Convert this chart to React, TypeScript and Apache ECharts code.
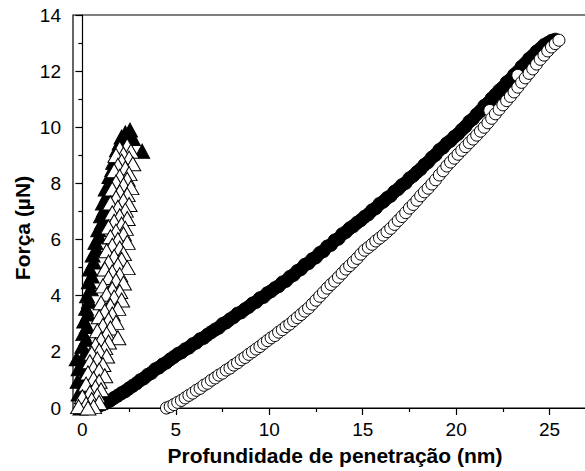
import { useEffect, useRef } from "react";
import * as echarts from "echarts";

// ---- axis ticks / titles ----
const xMajorTicks = [0, 5, 10, 15, 20, 25];
const xMinorTicks = [2.5, 7.5, 12.5, 17.5, 22.5];
const xTitle = "Profundidade de penetração (nm)";
const yTitle = "Força (µN)";

// ---- filled circles (loading, sample B) ----
const loadCircles: number[][] = [
  [0.3, 0.0], [0.5, 0.02], [0.7, 0.05], [0.9, 0.08], [1.1, 0.13], [1.3, 0.19], [1.5, 0.27],
  [1.7, 0.36], [1.9, 0.44], [2.1, 0.53], [2.3, 0.6], [2.5, 0.7], [2.7, 0.79], [2.9, 0.88],
  [3.1, 0.99], [3.3, 1.06], [3.5, 1.18], [3.7, 1.25], [3.9, 1.38], [4.1, 1.44], [4.3, 1.55],
  [4.5, 1.62], [4.7, 1.73], [4.9, 1.82], [5.1, 1.92], [5.3, 1.98], [5.5, 2.09], [5.7, 2.15],
  [5.9, 2.27], [6.1, 2.33], [6.3, 2.45], [6.5, 2.5], [6.7, 2.61], [6.9, 2.7], [7.1, 2.79],
  [7.3, 2.86], [7.5, 2.99], [7.7, 3.05], [7.9, 3.16], [8.1, 3.24], [8.3, 3.36], [8.5, 3.41],
  [8.7, 3.52], [8.9, 3.6], [9.1, 3.72], [9.3, 3.78], [9.5, 3.91], [9.7, 3.96], [9.9, 4.09],
  [10.1, 4.16], [10.3, 4.27], [10.5, 4.34], [10.7, 4.47], [10.9, 4.53], [11.1, 4.67],
  [11.3, 4.74], [11.5, 4.88], [11.7, 4.95], [11.9, 5.1], [12.1, 5.16], [12.3, 5.3],
  [12.5, 5.37], [12.7, 5.52], [12.9, 5.59], [13.1, 5.75], [13.3, 5.81], [13.5, 5.97],
  [13.7, 6.03], [13.9, 6.19], [14.1, 6.27], [14.3, 6.4], [14.5, 6.48], [14.7, 6.6],
  [14.9, 6.69], [15.1, 6.81], [15.3, 6.9], [15.5, 7.04], [15.7, 7.12], [15.9, 7.27],
  [16.1, 7.35], [16.3, 7.48], [16.5, 7.56], [16.7, 7.71], [16.9, 7.8], [17.1, 7.94],
  [17.3, 8.02], [17.5, 8.18], [17.7, 8.27], [17.9, 8.4], [18.1, 8.51], [18.3, 8.66],
  [18.5, 8.76], [18.7, 8.92], [18.9, 9.02], [19.1, 9.19], [19.3, 9.28], [19.5, 9.43],
  [19.7, 9.52], [19.9, 9.66], [20.1, 9.76], [20.3, 9.91], [20.5, 10.03], [20.7, 10.2],
  [20.9, 10.3], [21.1, 10.46], [21.3, 10.58], [21.5, 10.76], [21.7, 10.86], [21.9, 11.03],
  [22.1, 11.16], [22.3, 11.31], [22.5, 11.42], [22.7, 11.6], [22.9, 11.7], [23.1, 11.87],
  [23.3, 11.98], [23.5, 12.16], [23.7, 12.28], [23.9, 12.44], [24.1, 12.55], [24.3, 12.7],
  [24.5, 12.8], [24.7, 12.93], [24.9, 13.0], [25.1, 13.08], [25.3, 13.12],
];

// ---- open circles (unloading, sample B) ----
const unloadCircles: number[][] = [
  [4.5, 0.0], [4.7, 0.05], [4.9, 0.12], [5.1, 0.2], [5.3, 0.27], [5.5, 0.36], [5.7, 0.45],
  [5.9, 0.53], [6.1, 0.63], [6.3, 0.7], [6.5, 0.81], [6.7, 0.88], [6.9, 0.99], [7.1, 1.07],
  [7.3, 1.17], [7.5, 1.24], [7.7, 1.35], [7.9, 1.42], [8.1, 1.53], [8.3, 1.61], [8.5, 1.72],
  [8.7, 1.8], [8.9, 1.91], [9.1, 2.0], [9.3, 2.1], [9.5, 2.19], [9.7, 2.3], [9.9, 2.4],
  [10.1, 2.5], [10.3, 2.58], [10.5, 2.7], [10.7, 2.79], [10.9, 2.9], [11.1, 2.99],
  [11.3, 3.11], [11.5, 3.22], [11.7, 3.33], [11.9, 3.45], [12.1, 3.56], [12.3, 3.7],
  [12.5, 3.84], [12.7, 3.98], [12.9, 4.12], [13.1, 4.27], [13.3, 4.4], [13.5, 4.52],
  [13.7, 4.66], [13.9, 4.8], [14.1, 4.95], [14.3, 5.07], [14.5, 5.2], [14.7, 5.33],
  [14.9, 5.48], [15.1, 5.62], [15.3, 5.72], [15.5, 5.83], [15.7, 5.95], [15.9, 6.05],
  [16.1, 6.16], [16.3, 6.28], [16.5, 6.4], [16.7, 6.54], [16.9, 6.68], [17.1, 6.82],
  [17.3, 6.96], [17.5, 7.12], [17.7, 7.25], [17.9, 7.4], [18.1, 7.56], [18.3, 7.7],
  [18.5, 7.83], [18.7, 7.98], [18.9, 8.13], [19.1, 8.3], [19.3, 8.45], [19.5, 8.62],
  [19.7, 8.76], [19.9, 8.9], [20.1, 9.04], [20.3, 9.18], [20.5, 9.31], [20.7, 9.45],
  [20.9, 9.58], [21.1, 9.72], [21.3, 9.86], [21.5, 10.0], [21.7, 10.16], [21.8, 10.6],
  [21.9, 10.32], [22.1, 10.48], [22.3, 10.64], [22.5, 10.8], [22.7, 10.95], [22.9, 11.1],
  [23.1, 11.26], [23.3, 11.43], [23.3, 11.85], [23.5, 11.6], [23.7, 11.76], [23.9, 11.92],
  [24.1, 12.08], [24.3, 12.25], [24.5, 12.42], [24.7, 12.57], [24.9, 12.72], [25.1, 12.86],
  [25.3, 12.98], [25.5, 13.1],
];

// ---- filled triangles (loading, sample A) ----
const loadTriangles: number[][] = [
  [-0.1, 0.0], [0.0, 0.25], [-0.2, 0.5], [0.05, 0.7], [-0.25, 0.95], [0.1, 1.15],
  [-0.2, 1.4], [0.0, 1.6], [-0.3, 1.75], [0.15, 1.95], [0.0, 2.2], [0.2, 2.45],
  [0.05, 2.65], [0.25, 2.9], [0.1, 3.1], [0.3, 3.35], [0.2, 3.55], [0.35, 3.8],
  [0.25, 4.0], [0.45, 4.25], [0.35, 4.5], [0.5, 4.7], [0.4, 4.95], [0.6, 5.2],
  [0.55, 5.45], [0.75, 5.65], [0.7, 5.9], [0.9, 6.1], [0.85, 6.35], [1.05, 6.6],
  [1.0, 6.85], [1.15, 7.05], [1.1, 7.3], [1.3, 7.55], [1.25, 7.8], [1.45, 8.0],
  [1.45, 8.25], [1.6, 8.5], [1.65, 8.75], [1.8, 9.0], [1.85, 9.2], [2.0, 9.45],
  [2.1, 9.65], [2.3, 9.8], [2.55, 9.9], [2.7, 9.6], [3.2, 9.15],
];

// ---- open triangles (unloading, sample A) ----
const unloadTriangles: number[][] = [
  [2.4, 9.35], [2.0, 9.25], [2.6, 9.15], [2.2, 9.05], [1.8, 9.0], [2.5, 8.9], [2.1, 8.8],
  [2.7, 8.7], [1.9, 8.65], [2.3, 8.55], [1.7, 8.45], [2.5, 8.35], [2.0, 8.25], [2.4, 8.15],
  [1.8, 8.05], [2.2, 7.95], [2.6, 7.85], [1.6, 7.8], [2.0, 7.7], [2.4, 7.6], [1.8, 7.5],
  [2.2, 7.4], [1.5, 7.3], [2.5, 7.25], [1.9, 7.15], [2.3, 7.05], [1.6, 6.95], [2.0, 6.85],
  [2.4, 6.75], [1.7, 6.65], [2.1, 6.55], [1.4, 6.45], [2.3, 6.4], [1.8, 6.3], [2.2, 6.2],
  [1.5, 6.1], [1.9, 6.0], [2.4, 5.9], [1.6, 5.8], [2.0, 5.7], [1.3, 5.6], [2.2, 5.5],
  [1.7, 5.4], [2.1, 5.3], [1.4, 5.2], [1.9, 5.1], [2.4, 5.0], [1.2, 4.95], [1.6, 4.85],
  [2.0, 4.75], [1.4, 4.65], [1.8, 4.55], [2.2, 4.45], [1.1, 4.35], [1.6, 4.25], [2.0, 4.15],
  [1.3, 4.05], [1.7, 3.95], [2.1, 3.85], [1.0, 3.75], [1.5, 3.65], [1.9, 3.55], [1.2, 3.45],
  [1.6, 3.35], [0.9, 3.25], [1.4, 3.15], [1.8, 3.05], [1.1, 2.95], [1.5, 2.85], [0.8, 2.75],
  [1.3, 2.65], [1.9, 2.5], [1.0, 2.45], [1.4, 2.35], [0.7, 2.25], [1.2, 2.15], [0.9, 2.05],
  [0.5, 1.95], [1.3, 1.85], [0.8, 1.75], [0.4, 1.65], [1.1, 1.55], [0.6, 1.45], [0.9, 1.35],
  [0.3, 1.25], [1.2, 1.15], [0.6, 1.05], [0.9, 0.95], [0.2, 0.85], [0.7, 0.75], [1.0, 0.65],
  [0.4, 0.55], [0.8, 0.45], [0.0, 0.4], [0.5, 0.3], [0.9, 0.2], [0.2, 0.15], [0.6, 0.05],
  [-0.2, 0.05], [0.3, 0.0],
];

const FONT = "'Liberation Sans', Arial, sans-serif";

export default function App() {
  const ref = useRef<HTMLDivElement>(null);
  useEffect(() => {
    if (!ref.current) return;
    const chart = echarts.init(ref.current, null, { renderer: "svg" });
    const axisLine = { show: true, lineStyle: { color: "#000", width: 1.2 } };
    chart.setOption({
      animation: false,
      backgroundColor: "#fff",
      grid: {
        left: 73,
        top: 15,
        width: 514,
        height: 393,
        show: true,
        borderColor: "#000",
        borderWidth: 1.2,
        outerBoundsMode: "none",
        containLabel: false,
      },
      xAxis: [
        {
          type: "value",
          min: -0.5,
          max: 27,
          position: "bottom",
          axisLine,
          splitLine: { show: false },
          axisTick: {
            show: true,
            inside: false,
            length: 7,
            customValues: xMajorTicks,
            lineStyle: { color: "#000", width: 1.2 },
          },
          axisLabel: {
            customValues: xMajorTicks,
            color: "#000",
            fontFamily: FONT,
            fontSize: 19,
            margin: 12,
          },
        },
        {
          type: "value",
          min: -0.5,
          max: 27,
          position: "bottom",
          axisLine: { show: false },
          splitLine: { show: false },
          axisTick: {
            show: true,
            inside: false,
            length: 4,
            customValues: xMinorTicks,
            lineStyle: { color: "#000", width: 1.2 },
          },
          axisLabel: { show: false },
        },
      ],
      yAxis: {
        type: "value",
        min: 0,
        max: 14,
        interval: 2,
        axisLine,
        splitLine: { show: false },
        axisTick: { show: true, inside: false, length: 7, lineStyle: { color: "#000", width: 1.2 } },
        minorTick: { show: true, splitNumber: 2, length: 4, lineStyle: { color: "#000", width: 1.2 } },
        axisLabel: { color: "#000", fontFamily: FONT, fontSize: 19, margin: 12 },
      },
      graphic: [
        {
          type: "text",
          x: 335,
          y: 455,
          style: {
            text: xTitle,
            font: `bold 21px ${FONT}`,
            fill: "#000",
            align: "center",
            verticalAlign: "middle",
          },
        },
        {
          type: "text",
          x: 22,
          y: 228,
          rotation: Math.PI / 2,
          style: {
            text: yTitle,
            font: `bold 21px ${FONT}`,
            fill: "#000",
            align: "center",
            verticalAlign: "middle",
          },
        },
      ],
      series: [
        {
          type: "scatter",
          data: loadCircles,
          symbol: "circle",
          symbolSize: 13,
          itemStyle: { color: "#000", borderColor: "#000", borderWidth: 1, opacity: 1 },
        },
        {
          type: "scatter",
          data: unloadCircles,
          symbol: "circle",
          symbolSize: 12,
          itemStyle: { color: "#fff", borderColor: "#000", borderWidth: 1, opacity: 1 },
        },
        {
          type: "scatter",
          data: loadTriangles,
          symbol: "triangle",
          symbolSize: [15, 14],
          itemStyle: { color: "#000", borderColor: "#000", borderWidth: 1, opacity: 1 },
        },
        {
          type: "scatter",
          data: unloadTriangles,
          symbol: "triangle",
          symbolSize: [16, 14],
          itemStyle: { color: "#fff", borderColor: "#000", borderWidth: 1, opacity: 1 },
        },
      ],
    });
    return () => chart.dispose();
  }, []);
  return (
    <div
      ref={ref}
      style={{ position: "fixed", left: 0, top: 0, width: 585, height: 471, background: "#fff" }}
    />
  );
}
